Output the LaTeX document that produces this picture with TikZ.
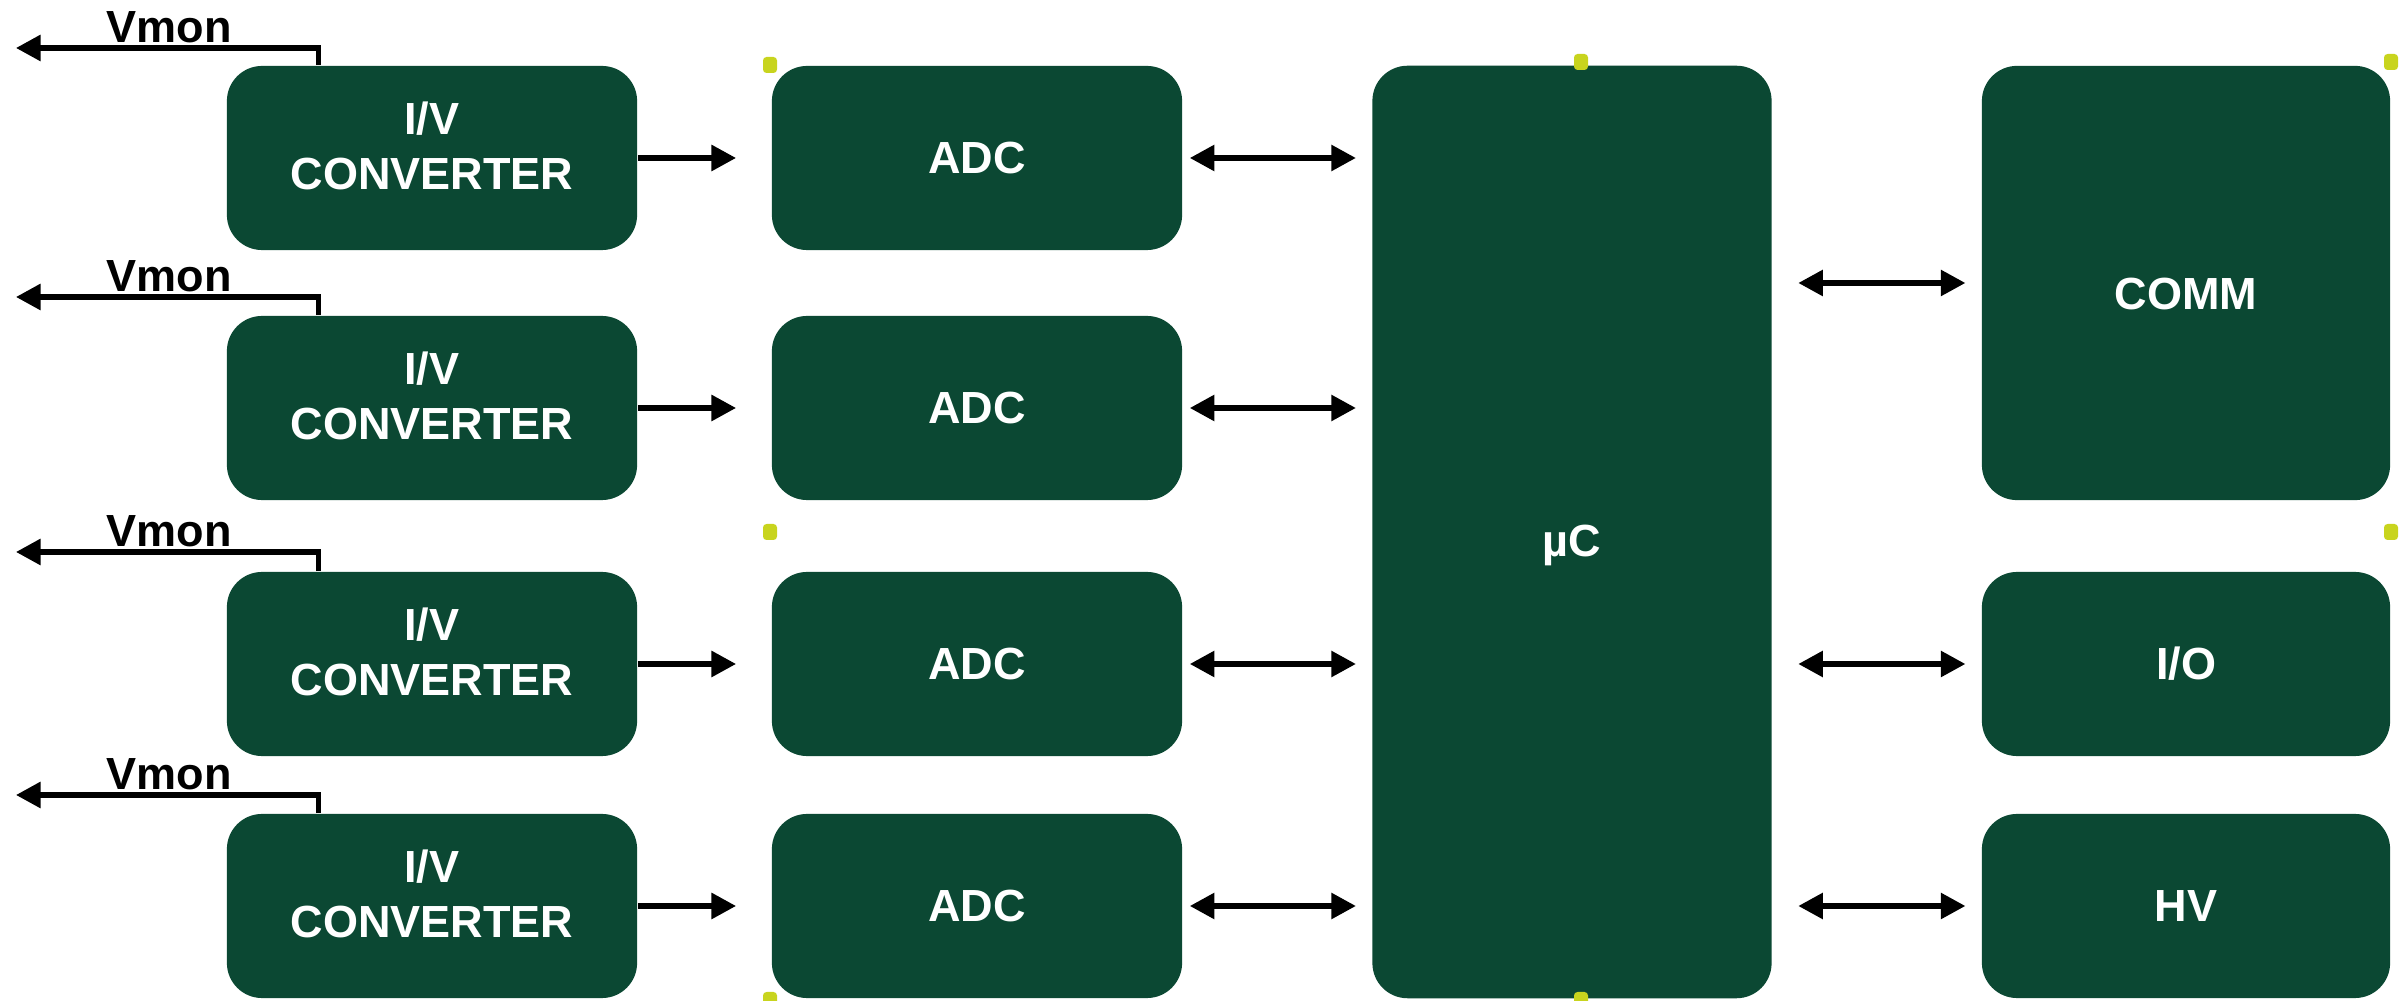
\documentclass[tikz,border=0pt]{standalone}
\usepackage{fontspec}
\setmainfont{Liberation Sans}
\usepackage{xcolor}
\usetikzlibrary{arrows.meta}
\usetikzlibrary{positioning}

\definecolor{boxgreen}{RGB}{11,72,51}
\definecolor{handlelime}{RGB}{200,212,30}

\tikzset{
  block/.style = {fill = boxgreen, rounded corners = 10pt, inner sep = 0pt,
                  text = white, align = center,
                  font = \fontsize{12.8}{15.6}\selectfont\bfseries},
  small/.style = {block, minimum width = 4.1cm, minimum height = 1.84cm},
  blocktext/.style = {inner sep = 0pt, text = white, align = center,
                      font = \fontsize{12.8}{15.6}\selectfont\bfseries},
  flow/.style = {line width = 1.45pt, -{Triangle[length = 7pt, width = 7.2pt]}},
  both/.style = {flow, {Triangle[length = 7pt, width = 7.2pt]}-{Triangle[length = 7pt, width = 7.2pt]}},
  vlabel/.style = {anchor = base, inner sep = 0pt,
                   font = \fontsize{12.8}{15.6}\selectfont\bfseries},
  handle/.style = {fill = handlelime, rounded corners = 1pt}
}

\begin{document}
\begin{tikzpicture}[x = 0.01cm, y = -0.01cm]
  \useasboundingbox (0,0) rectangle (2405,1001);

  % I/V converters (left column), text sits a bit above centre
  \node[small] (iv1) at (432,158) {};
  \node[small] (iv2) at (432,408) {};
  \node[small] (iv3) at (432,664) {};
  \node[small] (iv4) at (432,906) {};
  \node[blocktext] (iv1t) at (432,146) {I/V\\CONVERTER};
  \node[blocktext] (iv2t) at (432,396) {I/V\\CONVERTER};
  \node[blocktext] (iv3t) at (432,652) {I/V\\CONVERTER};
  \node[blocktext] (iv4t) at (432,894) {I/V\\CONVERTER};

  % ADCs
  \node[small] (adc1) at (977,158) {ADC};
  \node[small] (adc2) at (977,408) {ADC};
  \node[small] (adc3) at (977,664) {ADC};
  \node[small] (adc4) at (977,906) {ADC};

  % Microcontroller and peripherals
  \node[block, minimum width = 3.99cm, minimum height = 9.32cm] (uc) at (1572,532) {};
  \node[block, minimum width = 4.08cm, minimum height = 4.34cm] (comm) at (2186,283) {};
  \node[blocktext] (uct) at (1572,545) {µC};
  \node[blocktext] (commt) at (2186,294) {COMM};
  \node[small, minimum width = 4.08cm] (io) at (2186,664) {I/O};
  \node[small, minimum width = 4.08cm] (hv) at (2186,906) {HV};

  % Vmon outputs
  \coordinate (vm1) at (16,48);
  \coordinate (vm2) at (16,297);
  \coordinate (vm3) at (16,552);
  \coordinate (vm4) at (16,795);
  \draw[flow] ([xshift = 0.92cm]iv1.north west) |- (vm1);
  \draw[flow] ([xshift = 0.92cm]iv2.north west) |- (vm2);
  \draw[flow] ([xshift = 0.92cm]iv3.north west) |- (vm3);
  \draw[flow] ([xshift = 0.92cm]iv4.north west) |- (vm4);
  \node[vlabel] (vmon1) at (169,43) {Vmon};
  \node[vlabel] (vmon2) at (169,292) {Vmon};
  \node[vlabel] (vmon3) at (169,547) {Vmon};
  \node[vlabel] (vmon4) at (169,790) {Vmon};

  % I/V -> ADC
  \draw[flow, shorten > = 10pt] (iv1) -- (adc1);
  \draw[flow, shorten > = 10pt] (iv2) -- (adc2);
  \draw[flow, shorten > = 10pt] (iv3) -- (adc3);
  \draw[flow, shorten > = 10pt] (iv4) -- (adc4);

  % ADC <-> uC
  \draw[both, shorten < = 2pt, shorten > = 4.5pt] (adc1) -- (adc1 -| uc.west);
  \draw[both, shorten < = 2pt, shorten > = 4.5pt] (adc2) -- (adc2 -| uc.west);
  \draw[both, shorten < = 2pt, shorten > = 4.5pt] (adc3) -- (adc3 -| uc.west);
  \draw[both, shorten < = 2pt, shorten > = 4.5pt] (adc4) -- (adc4 -| uc.west);

  % uC <-> peripherals
  \draw[both, shorten < = 7.4pt, shorten > = 4.5pt] (uc.east |- comm) -- (comm);
  \draw[both, shorten < = 7.4pt, shorten > = 4.5pt] (uc.east |- io) -- (io);
  \draw[both, shorten < = 7.4pt, shorten > = 4.5pt] (uc.east |- hv) -- (hv);

  % Selection handles
  \fill[handle] (763,57) rectangle (777,73);
  \fill[handle] (1574,54) rectangle (1588,70);
  \fill[handle] (2384,54) rectangle (2398,70);
  \fill[handle] (763,524) rectangle (777,540);
  \fill[handle] (2384,524) rectangle (2398,540);
  \fill[handle] (763,992) rectangle (777,1008);
  \fill[handle] (1574,992) rectangle (1588,1008);
\end{tikzpicture}
\end{document}
